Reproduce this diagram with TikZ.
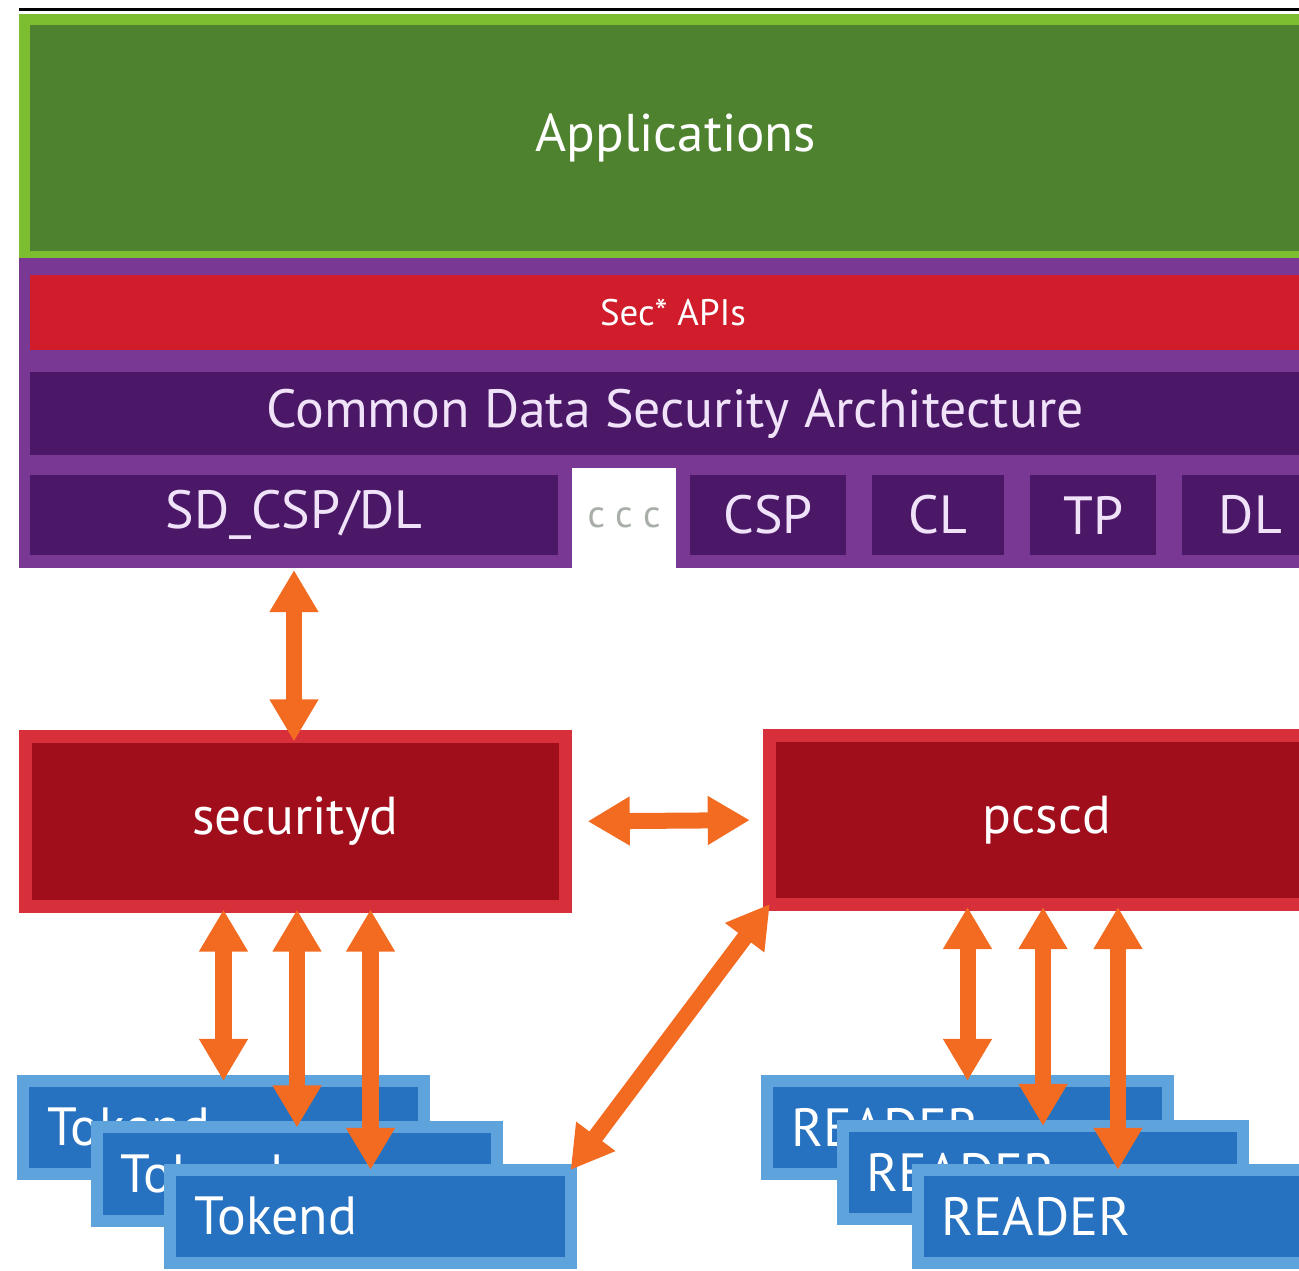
\documentclass[tikz,border=0pt]{standalone}
\usepackage{fontspec}
\setsansfont{PT Sans}
\usetikzlibrary{arrows.meta,calc,positioning}

\definecolor{appborder}{HTML}{7DBE31}
\definecolor{appgreen}{HTML}{4E822F}
\definecolor{cssmpurple}{HTML}{7A3895}
\definecolor{cdsadark}{HTML}{4A1866}
\definecolor{secred}{HTML}{D11D2B}
\definecolor{daemonborder}{HTML}{D8303A}
\definecolor{daemonred}{HTML}{A00E1C}
\definecolor{tokborder}{HTML}{5FA3DC}
\definecolor{tokblue}{HTML}{2672C0}
\definecolor{flowcol}{HTML}{F26B21}
\definecolor{lavender}{HTML}{F0E2F8}
\definecolor{dotgray}{HTML}{A8AEA8}

\tikzset{>={Triangle[length=4.2mm,width=4.6mm]},
	band/.style={rectangle, inner sep=0pt, outer sep=0pt, font=\sffamily},
	module/.style={band, fill=cdsadark, text=lavender, minimum height=0.8cm, font=\sffamily\fontsize{15.3}{18}\selectfont},
	daemon/.style={band, draw=daemonborder, line width=0.13cm, fill=daemonred, text=white, font=\sffamily\fontsize{15.2}{18}\selectfont},
	tokbox/.style={band, draw=tokborder, line width=0.12cm, fill=tokblue, text=white, minimum height=0.93cm, text width=3.52cm, inner xsep=0.24cm, align=left, font=\sffamily\fontsize{15.3}{18}\selectfont},
	flow/.style={<->, draw=flowcol, line width=0.16cm}
}

\begin{document}
\begin{tikzpicture}[x=0.01cm,y=-0.01cm]

\useasboundingbox (0,0) rectangle (1299,1271);
\clip (0,0) rectangle (1299,1271);

% Applications layer
\fill[black] (19,8) rectangle (1330,11);
\node[band, draw=appborder, line width=0.11cm, fill=appgreen, text=white, minimum width=13.03cm, minimum height=2.36cm, font=\sffamily\fontsize{15.1}{18}\selectfont] (apps) at (676,138) {Applications};

% CDSA layer
\fill[cssmpurple] (19,258) rectangle (1330,568);
\node[band, fill=secred, text=white, minimum width=12.86cm, minimum height=0.75cm, font=\sffamily\fontsize{10.5}{12}\selectfont] (secapi) at (673,312.5) {Sec* APIs};
\node[band, fill=cdsadark, text=lavender, minimum width=12.9cm, minimum height=0.83cm, font=\sffamily\fontsize{15.3}{18}\selectfont] (cdsa) at (675,413.5) {Common Data Security Architecture};

% Modules
\node[module, minimum width=5.28cm] (sdcsp) at (294,515) {SD\_CSP/DL};
\node[band, fill=white, text=dotgray, minimum width=1.04cm, minimum height=1.0cm, font=\sffamily\fontsize{11}{12}\selectfont] (more) at (624,518) {c c c};
\node[module, minimum width=1.56cm, right=0.14cm of more.east|-sdcsp.east, anchor=west] (csp) {CSP};
\node[module, minimum width=1.32cm, right=0.26cm of csp] (cl) {CL};
\node[module, minimum width=1.26cm, right=0.26cm of cl] (tp) {TP};
\node[module, minimum width=1.36cm, right=0.26cm of tp] (dl) {DL};

% Daemons
\node[daemon, minimum width=5.4cm, minimum height=1.7cm] (securityd) at (295.5,821.5) {securityd};
\node[daemon, minimum width=5.54cm, minimum height=1.68cm] (pcscd) at (1047,820) {pcscd};

% Tokends and readers
\foreach \i/\x/\y in {1/223.5/1127.5, 2/297/1174, 3/370.5/1216.5}{
	\node[tokbox] (tok\i) at (\x,\y) {Tokend};
}
\foreach \i/\x/\y in {1/967.5/1127.5, 2/1043/1172.5, 3/1118/1216.5}{
	\node[tokbox] (rdr\i) at (\x,\y) {READER};
}

% Arrows
\draw[flow, shorten <=0.15cm, shorten >=-0.05cm] (sdcsp.south) -- (sdcsp.south |- securityd.north);
\draw[flow, shorten <=0.22cm, shorten >=0.2cm] (securityd.east) -- (pcscd.west);
\foreach \i in {1,2,3}{
	\draw[flow, shorten <=0.03cm] (securityd.south -| tok\i.north) -- (tok\i.north);
	\draw[flow, shorten <=0.03cm] (pcscd.south -| rdr\i.north) -- (rdr\i.north);
}
\draw[flow] (pcscd.south west) -- (tok3.north east);

\end{tikzpicture}
\end{document}
